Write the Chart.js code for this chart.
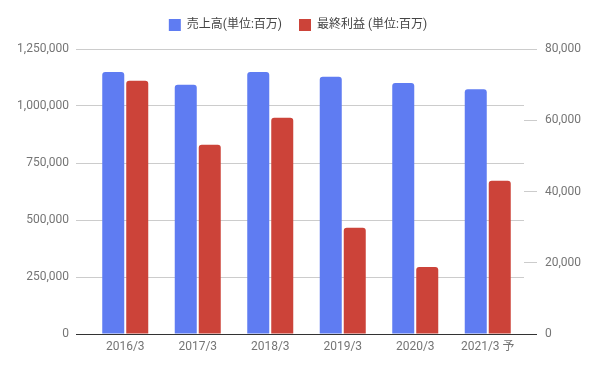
<!DOCTYPE html>
<html>
<head>
<meta charset="utf-8">
<script src="https://cdn.jsdelivr.net/npm/chart.js@4"></script>
<style>
    html, body { margin: 0; padding: 0; background: #fff; }
    #wrap { width: 596px; height: 369px; }
</style>
</head>
<body>
<div id="wrap"><canvas id="salesChart"></canvas></div>
<script>
// Chart data
const categories = ['2016/3', '2017/3', '2018/3', '2019/3', '2020/3', '2021/3 予'];
const salesValues = [1149000, 1093000, 1149000, 1128000, 1101000, 1074000];
const profitValues = [71100, 53100, 60700, 29800, 18800, 43000];
const salesLabel = '売上高(単位:百万)';
const profitLabel = '最終利益 (単位:百万)';

const fontFamily = "Roboto, 'Noto Sans CJK JP', sans-serif";

function gridColor(ctx) {
    return ctx.tick && ctx.tick.value === 0 ? '#333333' : '#cccccc';
}

// Legend height fix
const legendHeight = {
    id: 'legendHeight',
    beforeInit(chart) {
        const fit = chart.legend.fit;
        chart.legend.fit = function() {
            fit.bind(chart.legend)();
            this.height = 47;
        };
    }
};

const ctx = document.getElementById('salesChart').getContext('2d');
new Chart(ctx, {
    type: 'bar',
    data: {
        labels: categories,
        datasets: [{
            label: salesLabel,
            data: salesValues,
            backgroundColor: '#5f7cf2',
            borderRadius: 3,
            yAxisID: 'y',
            categoryPercentage: 0.662,
            barPercentage: 0.917
        }, {
            label: profitLabel,
            data: profitValues,
            backgroundColor: '#cc4339',
            borderRadius: 3,
            yAxisID: 'y1',
            categoryPercentage: 0.662,
            barPercentage: 0.917
        }]
    },
    options: {
        responsive: true,
        maintainAspectRatio: false,
        animation: false,
        layout: { padding: { top: 2 } },
        plugins: {
            legend: {
                position: 'top',
                labels: {
                    boxWidth: 12,
                    boxHeight: 12,
                    padding: 17,
                    color: '#444444',
                    font: { family: fontFamily, size: 12 }
                }
            },
            tooltip: { enabled: false }
        },
        scales: {
            x: {
                grid: { display: false, drawTicks: false },
                border: { display: false },
                ticks: {
                    padding: 6,
                    color: '#757575',
                    font: { family: fontFamily, size: 12 }
                },
                afterFit: scale => { scale.height = 35; }
            },
            y: {
                position: 'left',
                min: 0,
                max: 1250000,
                grid: {
                    color: gridColor,
                    tickColor: gridColor,
                    tickLength: 13
                },
                border: { display: false },
                ticks: {
                    stepSize: 250000,
                    padding: 7,
                    color: '#757575',
                    font: { family: fontFamily, size: 12 },
                    callback: v => v.toLocaleString('en-US')
                },
                afterFit: scale => { scale.width = 89; }
            },
            y1: {
                position: 'right',
                min: 0,
                max: 80000,
                grid: {
                    drawOnChartArea: false,
                    color: gridColor,
                    tickColor: gridColor,
                    tickLength: 13
                },
                border: { display: false },
                ticks: {
                    stepSize: 20000,
                    padding: 8,
                    color: '#757575',
                    font: { family: fontFamily, size: 12 },
                    callback: v => v.toLocaleString('en-US')
                },
                afterFit: scale => { scale.width = 72; }
            }
        }
    },
    plugins: [legendHeight]
});
</script>
</body>
</html>
